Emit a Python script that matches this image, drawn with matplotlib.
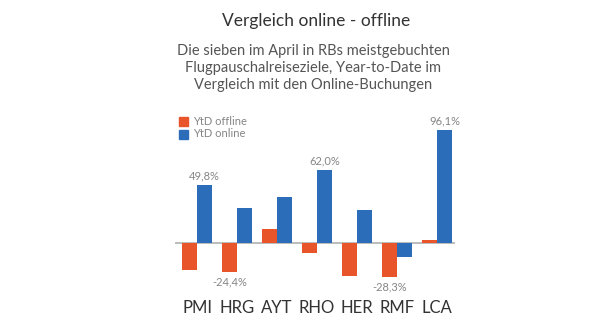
import matplotlib
matplotlib.use("Agg")
import matplotlib.pyplot as plt
from matplotlib.patches import Rectangle

# values in percent
CATS = ["PMI", "HRG", "AYT", "RHO", "HER", "RMF", "LCA"]
OFFLINE = [-22.6, -24.4, 11.9, -8.5, -28.0, -28.3, 2.8]
ONLINE = [49.8, 29.6, 39.5, 62.0, 28.2, -11.3, 96.1]
LABELED = {("on", 0): "49,8%", ("off", 1): "-24,4%", ("on", 3): "62,0%",
           ("off", 5): "-28,3%", ("on", 6): "96,1%"}

ORANGE = "#e8552b"
BLUE = "#2c6db9"
GRAY = "#858585"
INK = "#333333"

plt.rcParams["font.family"] = ["Lato", "DejaVu Sans"]

W, H = 613, 330
fig = plt.figure(figsize=(W / 100, H / 100), dpi=100)
fig.patch.set_facecolor("white")

# axes placed in pixels: left 175, right 455, top 120, bottom 290
ax = fig.add_axes([175 / W, 1 - 290 / H, 280 / W, 170 / H])
ax.set_xlim(-0.55, 6.45)
scale = 1.18  # px per percent
base = 243.3
ax.set_ylim(-(290 - base) / scale, (base - 120) / scale)
ax.axis("off")

bw = 0.375
x = list(range(len(CATS)))
ax.bar([i - bw / 2 for i in x], OFFLINE, width=bw, color=ORANGE, zorder=2)
ax.bar([i + bw / 2 for i in x], ONLINE, width=bw, color=BLUE, zorder=2)
ax.axhline(0, color="#b0b0b0", lw=1.2, zorder=1)

for (kind, i), txt in LABELED.items():
    v = ONLINE[i] if kind == "on" else OFFLINE[i]
    xi = i + bw / 2 if kind == "on" else i - bw / 2
    if v >= 0:
        ax.text(xi, v + 3, txt, ha="center", va="bottom", color=GRAY, fontsize=8)
    else:
        ax.text(xi, v - 4, txt, ha="center", va="top", color=GRAY, fontsize=8)

for i, c in enumerate(CATS):
    ax.text(i, -(308 - base) / scale, c, ha="center", va="center", color=INK,
            fontsize=12, clip_on=False)

# titles
fig.text(316 / W, 1 - 21 / H, "Vergleich online - offline", ha="center",
         va="center", fontsize=12.5, color=INK)
fig.text(313 / W, 1 - 68 / H,
         "Die sieben im April in RBs meistgebuchten\n"
         "Flugpauschalreiseziele, Year-to-Date im\n"
         "Vergleich mit den Online-Buchungen",
         ha="center", va="center", fontsize=10.5, color="#555555",
         linespacing=1.28)

# legend
for y, col, lab in [(121.5, ORANGE, "YtD offline"), (134, BLUE, "YtD online")]:
    fig.patches.append(Rectangle((179 / W, 1 - (y + 4.5) / H), 9 / W, 9 / H,
                                 transform=fig.transFigure, color=col))
    fig.text(193 / W, 1 - y / H, lab, ha="left", va="center", fontsize=8,
             color=GRAY)

fig.savefig("out.png", dpi=100)
